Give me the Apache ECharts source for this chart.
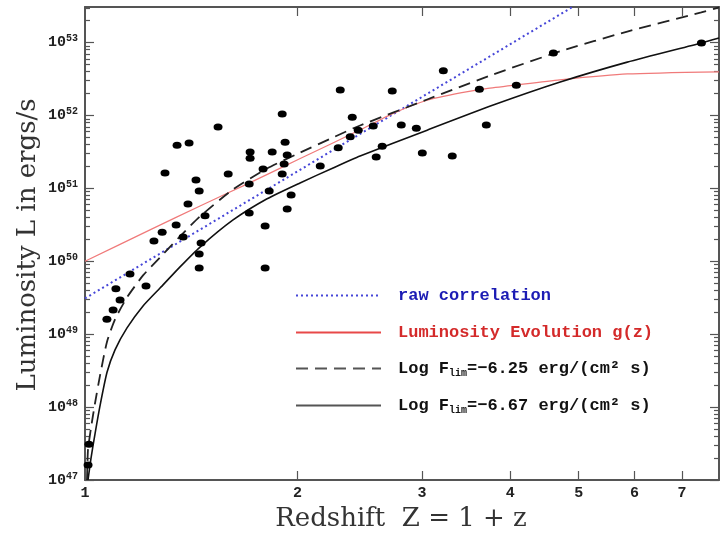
<!DOCTYPE html>
<html>
<head>
<meta charset="utf-8">
<script src="https://cdn.jsdelivr.net/npm/echarts@6/dist/echarts.min.js"></script>
<style>
  html, body { margin: 0; padding: 0; background: #ffffff; }
  #chart { width: 720px; height: 534px; }
</style>
</head>
<body>
<div id="chart"></div>
<script>
// Burst sample: redshift Z = 1+z and luminosity L (erg/s)
const burstZ = [1.010, 1.013, 1.074, 1.096, 1.121, 1.106, 1.220, 1.158, 1.252, 1.286,
                1.346, 1.377, 1.460, 1.451, 1.451, 1.479, 1.399, 1.451, 1.436, 1.298,
                1.595, 1.350, 1.404, 1.543, 1.902, 2.298, 1.713, 1.713, 1.841, 1.920,
                1.933, 1.787, 1.902, 1.914, 1.708, 1.823, 1.958, 1.933, 1.708, 1.799,
                1.799, 2.153, 2.283, 2.374, 2.437, 2.390, 2.559, 2.723, 3.216, 2.804,
                2.945, 2.635, 2.584, 3.003, 3.311, 3.617, 4.080, 3.700, 4.604, 7.46];
const burstL = [1.6e47, 3.1e47, 1.6e49, 2.15e49, 2.95e49, 4.2e49, 4.6e49, 6.7e49, 1.9e50, 2.5e50,
                3.15e50, 2.15e50, 1.78e50, 1.26e50, 8.1e49, 4.2e50, 6.1e50, 9.2e50, 1.3e51, 1.63e51,
                1.58e51, 3.9e51, 4.2e51, 6.95e51, 1.05e52, 2.24e52, 3.15e51, 2.6e51, 3.15e51, 4.3e51,
                2.87e51, 1.85e51, 1.58e51, 2.16e51, 1.15e51, 9.2e50, 8.1e50, 5.2e50, 4.6e50, 3.05e50,
                8.1e49, 2.03e51, 3.6e51, 5.1e51, 6.3e51, 9.5e51, 7.2e51, 2.17e52, 4.1e52, 7.4e51,
                6.7e51, 3.8e51, 2.7e51, 3.06e51, 2.78e51, 2.3e52, 2.6e52, 7.4e51, 7.2e52, 9.9e52];

// Raw L-Z correlation (straight in log-log)
const rawZ = [1, 4.9];
const rawL = [3.1e49, 3.08e53];

// Luminosity evolution g(z)
const evoZ = [1, 1.236, 1.455, 1.713, 2.017, 2.437, 2.732, 3.05, 3.40, 3.70, 4.08, 4.70, 5.86, 7.9];
const evoL = [1.0e50, 2.7e50, 5.75e50, 1.2e51, 2.57e51, 6.17e51, 1.07e52, 1.62e52, 2.04e52, 2.34e52,
              2.63e52, 3.09e52, 3.72e52, 3.98e52];

// Flux limit, log F_lim = -6.25
const limHiZ = [1.0065, 1.0098, 1.0198, 1.0332, 1.0501, 1.0744, 1.1028, 1.1468, 1.2083, 1.2771,
                1.3632, 1.4551, 1.6205, 1.8105, 2.016, 2.245, 2.452, 3.051, 3.784, 4.708,
                5.858, 7.457, 7.9];
const limHiL = [1.0e47, 2.6e47, 5.2e47, 1.13e48, 2.7e48, 7.9e48, 1.6e49, 3.2e49, 6.4e49, 1.13e50,
                2.2e50, 4.13e50, 9.7e50, 1.88e51, 3.1e51, 5.0e51, 7.3e51, 1.66e52, 3.66e52, 7.6e52,
                1.42e53, 2.6e53, 3.05e53];

// Flux limit, log F_lim = -6.67
const limLoZ = [1.0098, 1.0198, 1.0332, 1.0501, 1.0744, 1.1028, 1.1468, 1.2083, 1.2771, 1.3632,
                1.4551, 1.6205, 1.8105, 2.016, 2.245, 2.452, 3.051, 3.784, 4.708, 5.858,
                7.457, 7.9];
const limLoL = [1.0e47, 2.0e47, 4.3e47, 1.04e48, 3.0e48, 6.1e48, 1.22e49, 2.44e49, 4.3e49, 8.4e49,
                1.57e50, 3.69e50, 7.2e50, 1.19e51, 1.91e51, 2.78e51, 6.3e51, 1.39e52, 2.88e52, 5.4e52,
                9.9e52, 1.16e53];

// Axis ranges and ticks
const xMin = 1, xMax = 7.9;
const yMin = 1e47, yMax = 3.08e53;
const xTickLabels = [1, 2, 3, 4, 5, 6, 7];
const xTickMarks = [2, 3, 4, 5, 6, 7];
const yExponents = [47, 48, 49, 50, 51, 52, 53];

const seriesNames = [
  'raw correlation',
  'Luminosity Evolution g(z)',
  'Log Flim=\u22126.25 erg/(cm\u00b2 s)',
  'Log Flim=\u22126.67 erg/(cm\u00b2 s)'
];

const yMajor = yExponents.map(e => Number('1e' + e));
const yMinor = [];
yExponents.forEach(e => {
  for (let m = 2; m <= 9; m++) {
    const v = Number(m + 'e' + e);
    if (v <= yMax) yMinor.push(v);
  }
});

// "10" with the exponent raised as a smaller run of text
function powerLabel(v) {
  return '{b|10}{e|' + Math.round(Math.log10(v)) + '}';
}

const pairs = (xs, ys) => xs.map((x, i) => [x, ys[i]]);

const frameColor = '#555';
const monoFont = '"Liberation Mono", "DejaVu Sans Mono", monospace';
const serifFont = '"DejaVu Serif", "Liberation Serif", serif';

function logAxis(extra) {
  return Object.assign({
    type: 'log',
    logBase: 10,
    splitLine: { show: false },
    minorTick: { show: false },
    minorSplitLine: { show: false },
    axisLine: { show: true, lineStyle: { color: frameColor, width: 2 } },
    axisLabel: { show: false },
    axisTick: { show: false }
  }, extra);
}

function tickSet(values, len) {
  return { show: true, inside: true, length: len, customValues: values,
           lineStyle: { color: frameColor, width: 1.2 } };
}

function legendFormatter(name) {
  if (name.indexOf('Flim') >= 0) {
    const parts = name.split('Flim');
    return '{t|' + parts[0] + 'F}{s|lim}{t|' + parts[1] + '}';
  }
  return '{t|' + name + '}';
}

function legendAt(idx, rowY, color, lineColor) {
  return {
    show: true,
    data: [{ name: seriesNames[idx], lineStyle: lineColor ? { color: lineColor } : undefined }],
    left: 295,
    top: rowY - 10,
    orient: 'vertical',
    padding: 0,
    itemWidth: 85,
    itemHeight: 14,
    selectedMode: false,
    itemStyle: { opacity: 0 },
    formatter: legendFormatter,
    textStyle: {
      color: color,
      padding: [0, 0, 0, 12],
      rich: {
        t: { fontFamily: monoFont, fontWeight: 'bold', fontSize: 17, lineHeight: 20, color: color },
        s: { fontFamily: monoFont, fontWeight: 'bold', fontSize: 10, lineHeight: 10,
             verticalAlign: 'bottom', color: color }
      }
    }
  };
}

const chart = echarts.init(document.getElementById('chart'), null, { renderer: 'canvas' });

chart.setOption({
  animation: false,
  backgroundColor: '#ffffff',
  grid: { left: 85, right: 1, top: 7, bottom: 54, containLabel: false, outerBoundsMode: 'none' },
  xAxis: [
    logAxis({
      min: xMin, max: xMax, position: 'bottom',
      axisTick: tickSet(xTickMarks, 9),
      axisLabel: {
        show: true, customValues: xTickLabels, margin: 6,
        formatter: v => String(Math.round(v)),
        fontFamily: monoFont, fontWeight: 'bold', fontSize: 15, color: '#222'
      }
    }),
    logAxis({ min: xMin, max: xMax, position: 'top', axisTick: tickSet(xTickMarks, 9) })
  ],
  yAxis: [
    logAxis({
      min: yMin, max: yMax, position: 'left',
      axisTick: tickSet(yMajor, 9),
      axisLabel: {
        show: true, customValues: yMajor, margin: 7,
        formatter: powerLabel,
        color: '#222',
        rich: {
          b: { fontFamily: monoFont, fontWeight: 'bold', fontSize: 15, lineHeight: 18, color: '#222' },
          e: { fontFamily: monoFont, fontWeight: 'bold', fontSize: 10, lineHeight: 13,
               verticalAlign: 'top', color: '#222' }
        }
      }
    }),
    logAxis({ min: yMin, max: yMax, position: 'left', axisLine: { show: false }, axisTick: tickSet(yMinor, 5) }),
    logAxis({ min: yMin, max: yMax, position: 'right', axisTick: tickSet(yMajor, 9) }),
    logAxis({ min: yMin, max: yMax, position: 'right', axisLine: { show: false }, axisTick: tickSet(yMinor, 5) })
  ],
  legend: [
    legendAt(0, 297, '#1c1cb4'),
    legendAt(1, 334, '#d42a2a', '#e84848'),
    legendAt(2, 370, '#111111', '#555555'),
    legendAt(3, 407, '#111111', '#555555')
  ],
  graphic: [
    {
      type: 'text', x: 401, y: 519,
      style: { text: 'Redshift  Z = 1 + z', font: '26px ' + serifFont, fill: '#333',
               align: 'center', verticalAlign: 'middle' }
    },
    {
      type: 'text', x: 28, y: 245, rotation: Math.PI / 2,
      style: { text: 'Luminosity L in ergs/s', font: '26px ' + serifFont, fill: '#333',
               align: 'center', verticalAlign: 'middle' }
    }
  ],
  series: [
    {
      name: seriesNames[0], type: 'line', data: pairs(rawZ, rawL),
      symbol: 'none', z: 3,
      lineStyle: { color: '#4646d8', width: 2, type: [2, 3] }
    },
    {
      name: seriesNames[1], type: 'line', data: pairs(evoZ, evoL),
      symbol: 'none', smooth: 0.2, z: 3,
      lineStyle: { color: '#f07a7a', width: 1.2 }
    },
    {
      name: seriesNames[2], type: 'line', data: pairs(limHiZ, limHiL),
      symbol: 'none', smooth: 0.2, z: 3,
      lineStyle: { color: '#222222', width: 1.8, type: [12, 7] }
    },
    {
      name: seriesNames[3], type: 'line', data: pairs(limLoZ, limLoL),
      symbol: 'none', smooth: 0.2, z: 3,
      lineStyle: { color: '#111111', width: 1.6 }
    },
    {
      name: 'bursts', type: 'scatter', data: pairs(burstZ, burstL),
      symbol: 'circle', symbolSize: [9, 7], z: 4,
      itemStyle: { color: '#000000', opacity: 1 }
    }
  ]
});
</script>
</body>
</html>
